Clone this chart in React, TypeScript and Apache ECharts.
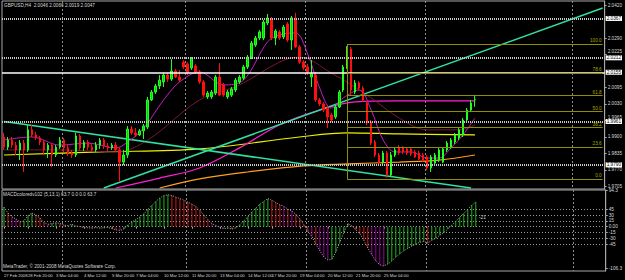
import React, { useEffect, useRef } from 'react';
import * as echarts from 'echarts';

// ---- data ----
const SLOT_COUNT = 151; // bar slots across the pane (right part empty)
const timeLabels = ['27 Feb 2008', '28 Feb 20:00', '3 Mar 04:00', '4 Mar 12:00', '5 Mar 20:00', '7 Mar 04:00', '10 Mar 12:00', '11 Mar 20:00', '13 Mar 04:00', '14 Mar 12:00', '17 Mar 20:00', '19 Mar 04:00', '20 Mar 12:00', '21 Mar 20:00', '25 Mar 04:00'];
const timeLabelBars = [0, 6, 13, 20, 27, 33, 40, 47, 54, 61, 67, 74, 81, 88, 95];
const gridLineBars = [15, 46, 76, 106, 143];

const opens = [
  1.9900, 1.9860, 1.9888, 1.9868, 1.9849, 1.9876, 1.9849, 1.9928, 1.9908, 1.9896,
  1.9880, 1.9849, 1.9868, 1.9829, 1.9860, 1.9888, 1.9857, 1.9837, 1.9829, 1.9904,
  1.9857, 1.9880, 1.9860, 1.9849, 1.9868, 1.9888, 1.9864, 1.9857, 1.9868, 1.9849,
  1.9801, 1.9829, 1.9931, 1.9916, 1.9908, 1.9924, 1.9939, 2.0046, 2.0077, 2.0101,
  2.0117, 2.0144, 2.0128, 2.0160, 2.0136, 2.0195, 2.0188, 2.0172, 2.0180, 2.0156,
  2.0117, 2.0058, 2.0058, 2.0073, 2.0136, 2.0105, 2.0058, 2.0065, 2.0085, 2.0117,
  2.0132, 2.0176, 2.0215, 2.0262, 2.0290, 2.0290, 2.0349, 2.0365, 2.0290, 2.0314,
  2.0294, 2.0345, 2.0282, 2.0369, 2.0255, 2.0195, 2.0176, 2.0136, 2.0144, 2.0046,
  2.0030, 2.0014, 1.9987, 1.9979, 2.0018, 2.0085, 2.0176, 2.0247, 2.0077, 2.0113,
  2.0093, 2.0034, 1.9959, 1.9880, 1.9829, 1.9801, 1.9837, 1.9750, 1.9829, 1.9860,
  1.9857, 1.9853, 1.9853, 1.9841, 1.9837, 1.9829, 1.9821, 1.9778, 1.9797, 1.9809,
  1.9801, 1.9849, 1.9860, 1.9880, 1.9896, 1.9908, 1.9967, 2.0006, 2.0046,
];
const closes = [
  1.9860, 1.9888, 1.9868, 1.9849, 1.9876, 1.9849, 1.9928, 1.9908, 1.9896, 1.9880,
  1.9849, 1.9868, 1.9829, 1.9860, 1.9888, 1.9857, 1.9837, 1.9829, 1.9904, 1.9857,
  1.9880, 1.9860, 1.9849, 1.9868, 1.9888, 1.9864, 1.9857, 1.9868, 1.9849, 1.9801,
  1.9829, 1.9931, 1.9916, 1.9908, 1.9924, 1.9943, 2.0046, 2.0077, 2.0101, 2.0124,
  2.0144, 2.0128, 2.0160, 2.0136, 2.0124, 2.0176, 2.0152, 2.0211, 2.0156, 2.0117,
  2.0065, 2.0073, 2.0077, 2.0136, 2.0065, 2.0065, 2.0077, 2.0089, 2.0124, 2.0136,
  2.0176, 2.0215, 2.0270, 2.0290, 2.0314, 2.0353, 2.0369, 2.0290, 2.0318, 2.0290,
  2.0333, 2.0282, 2.0369, 2.0255, 2.0195, 2.0172, 2.0156, 2.0148, 2.0046, 2.0030,
  2.0006, 1.9979, 1.9967, 2.0018, 2.0077, 2.0176, 2.0247, 2.0085, 2.0113, 2.0093,
  2.0046, 1.9955, 1.9876, 1.9829, 1.9801, 1.9837, 1.9750, 1.9829, 1.9849, 1.9837,
  1.9841, 1.9837, 1.9833, 1.9821, 1.9813, 1.9809, 1.9778, 1.9821, 1.9829, 1.9849,
  1.9853, 1.9876, 1.9888, 1.9908, 1.9928, 1.9967, 2.0006, 2.0034, 2.0047,
];
const lows = [
  1.9849, 1.9849, 1.9857, 1.9829, 1.9809, 1.9762, 1.9841, 1.9900, 1.9888, 1.9868,
  1.9829, 1.9817, 1.9782, 1.9821, 1.9853, 1.9841, 1.9825, 1.9817, 1.9821, 1.9849,
  1.9845, 1.9849, 1.9841, 1.9841, 1.9853, 1.9853, 1.9845, 1.9849, 1.9841, 1.9723,
  1.9790, 1.9817, 1.9908, 1.9900, 1.9904, 1.9892, 1.9931, 2.0042, 2.0069, 2.0089,
  2.0097, 2.0117, 2.0121, 2.0132, 2.0117, 2.0168, 2.0144, 2.0164, 2.0148, 2.0109,
  2.0058, 2.0050, 2.0050, 2.0065, 2.0061, 2.0058, 2.0050, 2.0058, 2.0077, 2.0109,
  2.0124, 2.0168, 2.0207, 2.0255, 2.0282, 2.0282, 2.0341, 2.0282, 2.0262, 2.0282,
  2.0286, 2.0274, 2.0243, 2.0251, 2.0188, 2.0164, 2.0144, 2.0097, 2.0038, 2.0022,
  1.9998, 1.9935, 1.9959, 1.9971, 2.0014, 2.0077, 2.0168, 2.0065, 2.0069, 2.0085,
  2.0038, 1.9947, 1.9868, 1.9821, 1.9790, 1.9790, 1.9739, 1.9742, 1.9821, 1.9829,
  1.9833, 1.9829, 1.9825, 1.9817, 1.9809, 1.9801, 1.9770, 1.9762, 1.9790, 1.9801,
  1.9797, 1.9841, 1.9853, 1.9872, 1.9888, 1.9900, 1.9959, 1.9998, 2.0019,
];
const highs = [
  1.9916, 1.9900, 1.9900, 1.9880, 1.9888, 1.9888, 1.9947, 1.9947, 1.9920, 1.9904,
  1.9888, 1.9876, 1.9876, 1.9868, 1.9900, 1.9896, 1.9868, 1.9849, 1.9916, 1.9912,
  1.9888, 1.9888, 1.9872, 1.9880, 1.9896, 1.9896, 1.9876, 1.9876, 1.9880, 1.9857,
  1.9849, 1.9943, 1.9943, 1.9935, 1.9931, 1.9951, 2.0058, 2.0085, 2.0109, 2.0144,
  2.0152, 2.0152, 2.0207, 2.0168, 2.0164, 2.0203, 2.0195, 2.0215, 2.0188, 2.0164,
  2.0124, 2.0081, 2.0085, 2.0144, 2.0191, 2.0113, 2.0085, 2.0097, 2.0132, 2.0144,
  2.0184, 2.0223, 2.0278, 2.0298, 2.0321, 2.0361, 2.0385, 2.0373, 2.0325, 2.0321,
  2.0341, 2.0353, 2.0377, 2.0389, 2.0262, 2.0203, 2.0188, 2.0203, 2.0156, 2.0054,
  2.0038, 2.0022, 1.9995, 2.0026, 2.0085, 2.0184, 2.0258, 2.0255, 2.0124, 2.0121,
  2.0101, 2.0042, 1.9967, 1.9888, 1.9837, 1.9845, 1.9845, 1.9841, 1.9857, 1.9868,
  1.9864, 1.9860, 1.9860, 1.9849, 1.9845, 1.9837, 1.9829, 1.9829, 1.9837, 1.9857,
  1.9860, 1.9884, 1.9896, 1.9916, 1.9935, 1.9975, 2.0014, 2.0046, 2.0066,
];

// moving averages: [bar index, price]
const maFast = [[0, 1.9888], [7, 1.9900], [14, 1.9868], [21, 1.9876], [28, 1.9857], [31, 1.9880], [35, 1.9935], [40, 2.0046], [44, 2.0117], [49, 2.0156], [55, 2.0105], [60, 2.0124], [66, 2.0274], [69, 2.0302], [73, 2.0310], [76, 2.0231], [79, 2.0097], [82, 2.0014], [85, 2.0054], [89, 2.0085], [92, 2.0006], [95, 1.9888], [98, 1.9841], [102, 1.9841], [106, 1.9817], [109, 1.9817], [112, 1.9857], [115, 1.9908], [118, 1.9975]];
const maSlow = [[0, 1.9849], [14, 1.9849], [28, 1.9841], [36, 1.9888], [49, 2.0046], [59, 2.0105], [69, 2.0195], [74, 2.0215], [82, 2.0152], [91, 2.0065], [99, 1.9975], [106, 1.9928], [114, 1.9928], [118, 1.9947]];
const maMagenta = [[28, 1.9699], [39, 1.9738], [49, 1.9778], [59, 1.9857], [69, 1.9947], [79, 2.0006], [88, 2.0038], [99, 2.0042], [118, 2.0042]];
const maYellow = [[0, 1.9829], [24, 1.9841], [49, 1.9853], [74, 1.9900], [86, 1.9916], [99, 1.9912], [118, 1.9908]];
const maOrange = [[39, 1.9699], [49, 1.9735], [61, 1.9762], [75, 1.9786], [86, 1.9794], [99, 1.9801], [109, 1.9809], [118, 1.9829]];

const trendUp = [[25, 1.9699], [150, 2.0408]];
const trendDown = [[0, 1.9961], [117, 1.9699]];

const hLinesDotted = [2.0367, 2.0212, 1.9961, 1.9790];
const hLineSolid = 2.0155;
const bidPrice = 2.0047;

const fibHigh = 2.0266;
const fibLow = 1.9734;
const fibStartBar = 86;
const fibLevels = [0, 23.6, 38.2, 50.0, 61.8, 78.6, 100.0];

const priceTicks = [2.0420, 2.0290, 2.0225, 2.0095, 2.0030, 1.9965, 1.9900, 1.9835, 1.9770, 1.9705];
const raisedTicks = [2.0225, 1.9965];

const macd = [
  50, 35, 25, 20, 12, 15, 28, 35, 30, 22,
  10, 6, 8, 10, 8, 4, 3, 6, 2, 0,
  -2, -3, -4, -2, -4, -3, -2, -5, -8, -10,
  -6, 5, 12, 18, 25, 33, 45, 55, 65, 74,
  80, 82, 80, 76, 72, 68, 63, 58, 52, 42,
  30, 18, 8, 3, -2, -5, -4, -6, -3, 5,
  15, 25, 38, 48, 58, 65, 72, 68, 62, 56,
  52, 45, 40, 32, 20, 5, -12, -25, -45, -62,
  -78, -86, -84, -65, -40, -15, 8, 2, -8, -18,
  -35, -55, -72, -88, -98, -101, -96, -88, -78, -70,
  -62, -56, -50, -45, -40, -38, -42, -35, -30, -22,
  -15, -6, 4, 14, 24, 34, 45, 55, 63.7,
];
const macdLevels = [45, 30, 15, 0, -15, -30, -45];
const macdTicks = [94.3, 45, 30, 15, 0, -15, -30, -45, -106.3];

const FONT = 'Liberation Sans';
const FS = 4.7;
const TXT = '#d8d8d8';

export default function App() {
  const ref = useRef<HTMLDivElement>(null);
  useEffect(() => {
    if (!ref.current) return;
    const chart = echarts.init(ref.current, undefined, { renderer: 'svg' });
    const cats = Array.from({ length: SLOT_COUNT }, (_, i) => 'b' + i);
    const labelMap: Record<number, string> = {};
    timeLabelBars.forEach((b, k) => { labelMap[b] = timeLabels[k]; });

    const candles = opens.map((o, i) => [o, closes[i], lows[i], highs[i]]);

    const macdItems = macd.map((v, i) => {
      const prev = i > 0 ? macd[i - 1] : v;
      const prevDelta = i > 1 ? macd[i - 1] - macd[i - 2] : 0;
      const d = v - prev;
      let color = '#18b818';
      if (d < 0) color = Math.abs(d) < Math.abs(prevDelta) && prevDelta < 0 ? '#a000a0' : '#d81818';
      return { value: v, itemStyle: { color } };
    });

    const maLine = (data: number[][], color: string, width = 1) => ({
      type: 'line', xAxisIndex: 0, yAxisIndex: 0, data, smooth: 0.35, symbol: 'none',
      lineStyle: { color, width }, silent: true, z: 3,
    });

    const boxLabel = (txt: number) => ({
      show: true, position: 'end', distance: 1, formatter: txt.toFixed(4),
      backgroundColor: '#ffffff', color: '#000', fontSize: FS, fontFamily: FONT, padding: [0, 1, 0, 1], lineHeight: 5,
    });

    const fibMark = fibLevels.map((lvl) => {
      const v = fibLow + (fibHigh - fibLow) * lvl / 100;
      return [
        { coord: [cats[fibStartBar], v], label: { show: true, position: 'insideEndTop', formatter: lvl.toFixed(1), color: '#a8a800', fontSize: FS, fontFamily: FONT, distance: 1 } },
        { coord: [cats[SLOT_COUNT - 1], v] },
      ];
    });

    const xCommon = {
      type: 'category', data: cats, boundaryGap: true,
      axisLine: { show: false },
      splitLine: { show: true, interval: (i: number) => gridLineBars.includes(i), lineStyle: { color: '#8c8c8c', type: [2, 2], width: 1 } },
    };

    const option: any = {
      animation: false,
      backgroundColor: '#000000',
      grid: [
        { left: 2, top: 1, width: 604, height: 188, show: true, borderColor: '#a8a8a8', borderWidth: 1, backgroundColor: '#000' },
        { left: 2, top: 190, width: 604, height: 81, show: true, borderColor: '#a8a8a8', borderWidth: 1, backgroundColor: '#000' },
      ],
      xAxis: [
        { ...xCommon, gridIndex: 0, axisTick: { show: false }, axisLabel: { show: false } },
        {
          ...xCommon, gridIndex: 1,
          axisTick: { show: true, alignWithLabel: true, interval: (i: number) => labelMap[i] !== undefined, length: 2, lineStyle: { color: '#a8a8a8' } },
          axisLabel: {
            show: true, interval: (i: number) => labelMap[i] !== undefined, formatter: (_v: string, i: number) => labelMap[i] ?? '',
            align: 'left', color: TXT, fontSize: 4.2, fontFamily: FONT, margin: 2, hideOverlap: false,
          },
        },
      ],
      yAxis: [
        {
          type: 'value', gridIndex: 0, position: 'right', min: 1.9695, max: 2.04358,
          axisLine: { show: true, lineStyle: { color: '#a8a8a8' } },
          axisTick: { show: true, length: 2, customValues: priceTicks, lineStyle: { color: '#a8a8a8' } },
          axisLabel: {
            show: true, customValues: priceTicks, color: TXT, fontSize: FS, fontFamily: FONT, margin: 3,
            formatter: (v: number) => (raisedTicks.some((r) => Math.abs(r - v) < 1e-6) ? `{up|${v.toFixed(4)}}` : v.toFixed(4)),
            rich: { up: { padding: [0, 0, 5, 0], color: TXT, fontSize: FS, fontFamily: FONT } },
          },
          splitLine: { show: false },
        },
        {
          type: 'value', gridIndex: 1, position: 'right', min: -114, max: 94.3,
          axisLine: { show: true, lineStyle: { color: '#a8a8a8' } },
          axisTick: { show: true, length: 2, customValues: macdTicks, lineStyle: { color: '#a8a8a8' } },
          axisLabel: { show: true, customValues: macdTicks, formatter: (v: number) => (v === 0 ? '0.00' : String(v)), color: TXT, fontSize: FS, fontFamily: FONT, margin: 3 },
          splitLine: { show: false },
        },
      ],
      series: [
        // horizontal lines + boxed price labels
        {
          type: 'line', xAxisIndex: 0, yAxisIndex: 0, data: [], silent: true, z: 2,
          markLine: {
            symbol: 'none', silent: true, animation: false, precision: 5,
            data: [
              ...hLinesDotted.map((v) => ({ yAxis: v, lineStyle: { color: '#c8c8c8', type: [1, 1], width: 2 }, label: boxLabel(v) })),
              { yAxis: hLineSolid, lineStyle: { color: '#ffffff', type: 'solid', width: 1.5 }, label: boxLabel(hLineSolid) },
              { yAxis: bidPrice, lineStyle: { opacity: 0, width: 0 }, label: boxLabel(bidPrice) },
            ],
          },
        },
        // fibonacci
        {
          type: 'line', xAxisIndex: 0, yAxisIndex: 0, data: [], silent: true, z: 2,
          markLine: {
            symbol: 'none', silent: true, animation: false, precision: 5,
            lineStyle: { color: '#8f8f00', type: 'solid', width: 1 },
            data: [
              ...fibMark,
              [{ coord: [cats[fibStartBar], fibHigh], label: { show: false } }, { coord: [cats[fibStartBar], fibLow] }],
            ],
          },
        },
        maLine(maYellow, '#f0f000', 1.2),
        maLine(maOrange, '#ffa020', 1.2),
        maLine(maMagenta, '#ff20d0', 1.2),
        maLine(maSlow, '#7a1830', 1),
        { type: 'line', xAxisIndex: 0, yAxisIndex: 0, data: trendUp, symbol: 'none', lineStyle: { color: '#30e0a0', width: 1.5 }, silent: true, z: 3 },
        { type: 'line', xAxisIndex: 0, yAxisIndex: 0, data: trendDown, symbol: 'none', lineStyle: { color: '#30e0a0', width: 1.5 }, silent: true, z: 3 },
        {
          type: 'candlestick', xAxisIndex: 0, yAxisIndex: 0, data: candles, barWidth: 2, z: 4,
          itemStyle: { color: '#00d800', color0: '#ff1010', borderColor: '#20ff20', borderColor0: '#ff1010', borderWidth: 1 },
        },
        maLine(maFast, '#c020c0', 1),
        // MACD
        {
          type: 'bar', xAxisIndex: 1, yAxisIndex: 1, data: macdItems, barWidth: 1, silent: true,
          markLine: {
            symbol: 'none', silent: true, animation: false, label: { show: false },
            lineStyle: { color: '#9a9a9a', type: [1, 2], width: 1 },
            data: macdLevels.map((v) => ({ yAxis: v })),
          },
        },
        {
          type: 'line', xAxisIndex: 1, yAxisIndex: 1, data: macd, symbol: 'none', silent: true,
          lineStyle: { color: '#b0b0b0', type: [1, 1.5], width: 1 },
        },
      ],
      graphic: [
        { type: 'text', left: 4, top: 3, style: { text: 'GBPUSD,H4  2.0046 2.0066 2.0019 2.0047', fill: TXT, fontSize: FS, fontFamily: FONT } },
        { type: 'text', left: 3, top: 192, style: { text: 'MACDcoloredv102 (5,13,1) 63.7 0.0 0.0 63.7', fill: TXT, fontSize: FS, fontFamily: FONT } },
        { type: 'text', left: 3, top: 264, style: { text: 'MetaTrader, © 2001-2008 MetaQuotes Software Corp.', fill: TXT, fontSize: FS, fontFamily: FONT } },
        { type: 'text', left: 479, top: 215, style: { text: '-21', fill: TXT, fontSize: FS, fontFamily: FONT } },
      ],
    };
    chart.setOption(option);
    return () => chart.dispose();
  }, []);
  return <div ref={ref} style={{ position: 'fixed', left: 0, top: 0, width: 625, height: 280, background: '#000' }} />;
}
